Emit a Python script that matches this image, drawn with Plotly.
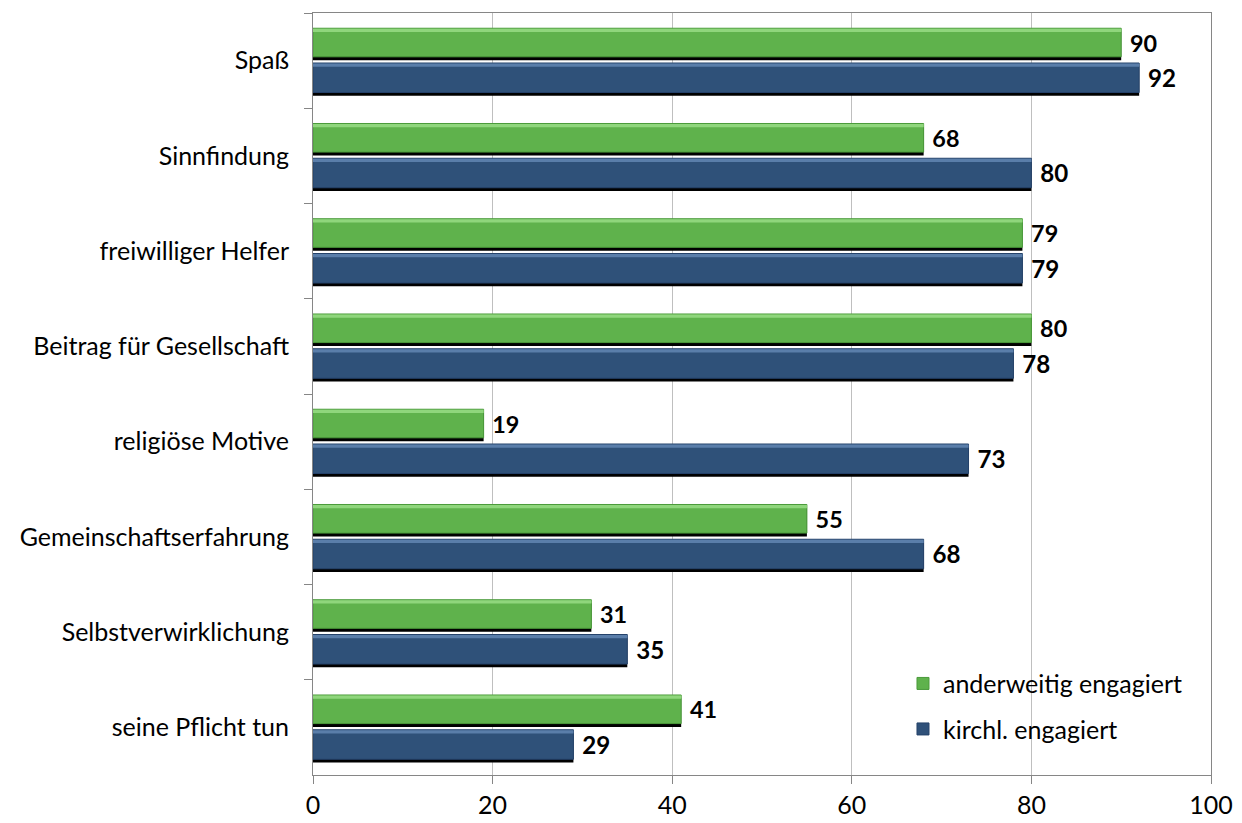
import plotly.graph_objects as go

# Daten
kategorien = ["Spaß", "Sinnfindung", "freiwilliger Helfer", "Beitrag für Gesellschaft",
              "religiöse Motive", "Gemeinschaftserfahrung", "Selbstverwirklichung",
              "seine Pflicht tun"]
anderweitig = [90, 68, 79, 80, 19, 55, 31, 41]
kirchlich = [92, 80, 79, 78, 73, 68, 35, 29]
x_ticks = [0, 20, 40, 60, 80, 100]

gruen = "#5fb24c"
blau = "#2f5179"
schrift = "Lato, 'Open Sans', sans-serif"

fig = go.Figure()

# Schatten unter den Balken
fig.add_trace(go.Bar(y=kategorien, x=anderweitig, orientation="h", offset=-0.305, width=0.30,
                     marker=dict(color="#000000", line=dict(width=0)), showlegend=False,
                     hoverinfo="skip"))
fig.add_trace(go.Bar(y=kategorien, x=kirchlich, orientation="h", offset=0.06, width=0.31,
                     marker=dict(color="#000000", line=dict(width=0)), showlegend=False,
                     hoverinfo="skip"))

# eigentliche Balken
fig.add_trace(go.Bar(y=kategorien, x=anderweitig, orientation="h", offset=-0.34, width=0.30,
                     name="anderweitig engagiert", legendgroup="a",
                     marker=dict(color=gruen, line=dict(color="#4a9a3a", width=1)),
                     text=anderweitig, texttemplate=" %{x}", textposition="outside",
                     cliponaxis=False,
                     textfont=dict(size=27, color="black", family=schrift, weight="bold")))
fig.add_trace(go.Bar(y=kategorien, x=kirchlich, orientation="h", offset=0.025, width=0.31,
                     name="kirchl. engagiert", legendgroup="b",
                     marker=dict(color=blau, line=dict(color="#25426a", width=1)),
                     text=kirchlich, texttemplate=" %{x}", textposition="outside",
                     cliponaxis=False,
                     textfont=dict(size=27, color="black", family=schrift, weight="bold")))

# heller Streifen oben (Glanz)
fig.add_trace(go.Bar(y=kategorien, x=anderweitig, orientation="h", offset=-0.335, width=0.035,
                     marker=dict(color="#8fd67c", line=dict(width=0)), showlegend=False,
                     hoverinfo="skip"))
fig.add_trace(go.Bar(y=kategorien, x=kirchlich, orientation="h", offset=0.03, width=0.035,
                     marker=dict(color="#5a7eaa", line=dict(width=0)), showlegend=False,
                     hoverinfo="skip"))

fig.update_layout(
    width=1234, height=815,
    barmode="overlay",
    plot_bgcolor="white", paper_bgcolor="white",
    margin=dict(l=305, r=31, t=4, b=47),
    font=dict(family=schrift, size=25, color="black"),
    legend=dict(x=0.657, y=0.15, xanchor="left", yanchor="top",
                font=dict(size=25), tracegroupgap=10, bgcolor="rgba(0,0,0,0)"),
)
fig.update_xaxes(range=[0, 100], tickvals=x_ticks, showgrid=True, gridcolor="#bfbfbf",
                 gridwidth=1, showline=True, linecolor="#868686", mirror=True,
                 ticks="outside", ticklen=8, tickcolor="#868686",
                 tickfont=dict(size=25), zeroline=False)
fig.update_yaxes(categoryorder="array", categoryarray=kategorien, autorange="reversed",
                 showline=True, linecolor="#868686", mirror=True, ticks="outside",
                 ticklen=8, tickcolor="#868686", tickson="boundaries",
                 ticklabelstandoff=18, tickfont=dict(size=25), showgrid=False)

fig.write_html("out.html")
